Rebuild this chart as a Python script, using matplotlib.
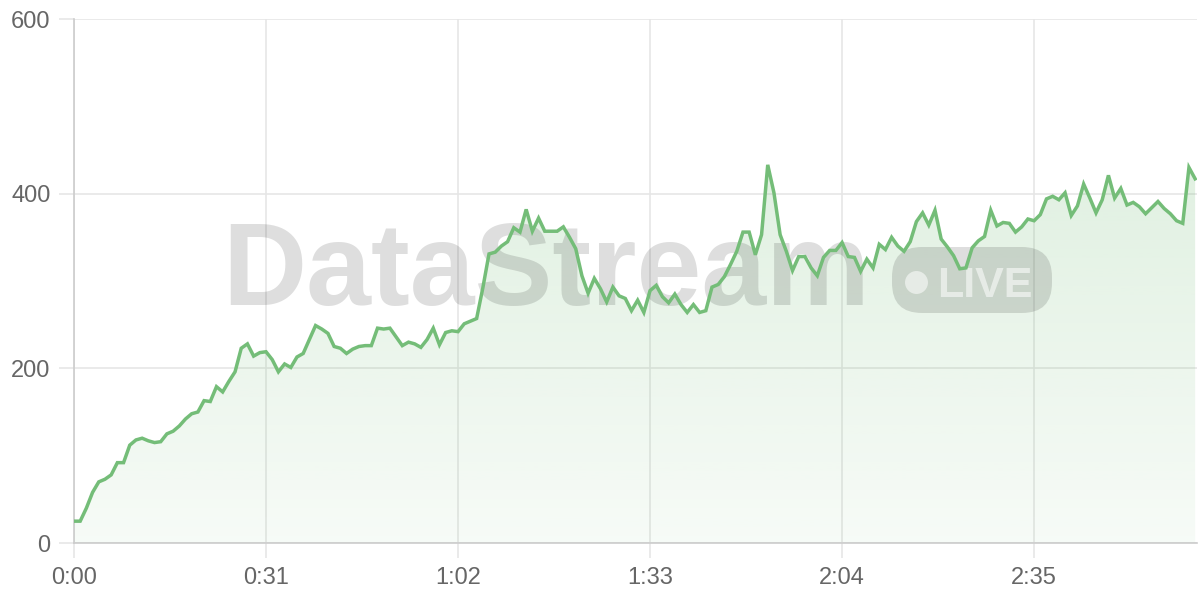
import numpy as np
import matplotlib
matplotlib.use("Agg")
import matplotlib.pyplot as plt
from matplotlib.ticker import FixedLocator, FuncFormatter
from matplotlib.patches import FancyBboxPatch
from matplotlib.transforms import IdentityTransform

values = [
    25, 25, 40, 58, 70, 73, 78, 92, 92, 112,
    118, 120, 117, 115, 116, 125, 128, 134, 142, 148,
    150, 163, 162, 179, 173, 185, 196, 223, 228, 214,
    218, 219, 210, 196, 205, 201, 213, 217, 233, 249,
    245, 240, 225, 223, 217, 222, 225, 226, 226, 246,
    245, 246, 236, 226, 230, 228, 224, 233, 246, 227,
    241, 243, 242, 251, 254, 257, 292, 331, 333, 340,
    345, 361, 356, 382, 357, 372, 357, 357, 357, 362,
    350, 337, 306, 286, 303, 291, 276, 293, 283, 280,
    266, 278, 264, 289, 295, 282, 275, 285, 273, 264,
    273, 264, 266, 293, 296, 305, 319, 334, 356, 356,
    330, 353, 433, 401, 353, 334, 312, 328, 328, 315,
    306, 327, 335, 335, 344, 328, 327, 311, 325, 315,
    342, 336, 350, 340, 334, 345, 368, 378, 364, 381,
    348, 339, 329, 314, 315, 338, 346, 351, 381, 363,
    367, 366, 356, 362, 371, 369, 376, 394, 397, 393,
    401, 375, 386, 411, 395, 378, 393, 421, 395, 406,
    387, 390, 385, 377, 384, 391, 383, 377, 369, 366,
    430, 417,
]
seconds = np.arange(len(values))
x_ticks = [0, 31, 62, 93, 124, 155]
y_ticks = [0, 200, 400, 600]

line_color = "#74bd78"
grid_color = "#e6e6e6"
label_color = "#666666"

plt.rcParams['font.family'] = ['Liberation Sans', 'DejaVu Sans']

fig = plt.figure(figsize=(12, 6), dpi=100)
ax = fig.add_axes([74 / 1200, 57 / 600, 1123 / 1200, 524 / 600])

ax.set_xlim(0, seconds[-1] + 0.3)
ax.set_ylim(0, 600)

# gradient fill under the line
vals = np.array(values, dtype=float)
grad = np.linspace(0.0, 1.0, 256).reshape(-1, 1)
rgba = np.zeros((256, 1, 4))
rgba[..., 0] = 0x74 / 255
rgba[..., 1] = 0xbd / 255
rgba[..., 2] = 0x78 / 255
rgba[..., 3] = 0.06 + 0.16 * grad
img = ax.imshow(rgba, extent=[0, seconds[-1], 0, vals.max()], origin="lower",
                aspect="auto", zorder=1)
poly = ax.fill_between(seconds, vals, 0, color="none", lw=0)
img.set_clip_path(poly.get_paths()[0], transform=ax.transData)

# watermark (badge drawn in pixel units so the corners stay round)
ax.text(148 / 1123, 238 / 524, "DataStream", transform=ax.transAxes,
        fontsize=84, fontweight="bold", color="#000000", alpha=0.13,
        ha="left", va="baseline", zorder=2)
badge = FancyBboxPatch((892, 287), 160, 66,
                       boxstyle="round,pad=0,rounding_size=30",
                       transform=IdentityTransform(), facecolor="#000000",
                       alpha=0.13, lw=0, zorder=2, clip_on=False)
ax.add_patch(badge)
ax.plot([842 / 1123], [261 / 524], "o", transform=ax.transAxes,
        markersize=16.5, color="white", alpha=0.55, mew=0, zorder=2)
ax.text(863 / 1123, 246 / 524, "LIVE", transform=ax.transAxes, fontsize=31,
        fontweight="bold", color="white", alpha=0.55, ha="left",
        va="baseline", zorder=2)

ax.plot(seconds, vals, color=line_color, lw=2.5, solid_joinstyle="miter",
        zorder=3)

# axes styling
ax.xaxis.set_major_locator(FixedLocator(x_ticks))
ax.yaxis.set_major_locator(FixedLocator(y_ticks))
ax.xaxis.set_major_formatter(FuncFormatter(lambda v, p: "%d:%02d" % (int(v) // 60, int(v) % 60)))
ax.grid(True, color=grid_color, lw=1.2, zorder=0)
ax.set_axisbelow(True)
for s in ["top", "right"]:
    ax.spines[s].set_visible(False)
for s in ["left", "bottom"]:
    ax.spines[s].set_color("#cccccc")
    ax.spines[s].set_linewidth(1.2)
ax.tick_params(axis="both", length=11, width=1.2, color=grid_color,
               labelcolor=label_color, labelsize=17, pad=6)

fig.savefig("out.png", dpi=100, facecolor="white")
